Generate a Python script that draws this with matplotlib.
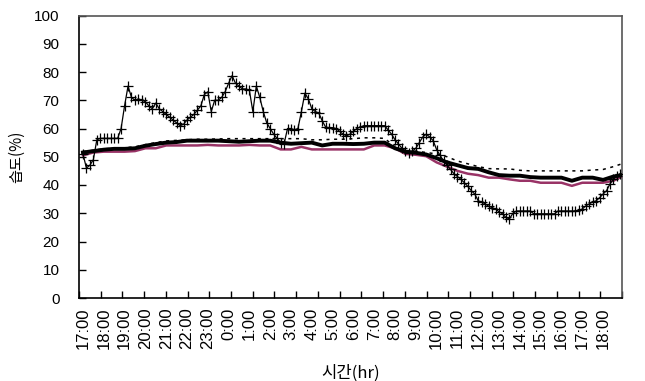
import numpy as np
import matplotlib
matplotlib.use("Agg")
import matplotlib.pyplot as plt

plt.rcParams['font.family'] = ['Liberation Sans', 'Noto Sans CJK KR', 'DejaVu Sans']

# time axis labels (hours after 17:00)
tick_labels = ["17:00", "18:00", "19:00", "20:00", "21:00", "22:00", "23:00",
               "0:00", "1:00", "2:00", "3:00", "4:00", "5:00", "6:00", "7:00",
               "8:00", "9:00", "10:00", "11:00", "12:00", "13:00", "14:00",
               "15:00", "16:00", "17:00", "18:00"]
tick_hours = list(range(len(tick_labels)))

# outdoor humidity (+ markers), every 10 minutes from 17:00
plus_vals = [
    51, 46, 47, 49, 56, 56.5,
    56.5, 56.5, 56.5, 56.5, 56.5, 60,
    68, 75, 71, 70, 70.5, 70,
    69.5, 68, 67, 69, 67, 66,
    65, 64, 63, 62, 61, 61.5,
    63, 64, 65, 66.5, 68, 72,
    73, 66, 70, 70, 71, 73,
    76, 78.7, 76, 75, 74, 74,
    73.5, 66, 75, 71, 66, 62,
    60, 58, 56.5, 55, 54.6, 60,
    60, 59.5, 60, 66, 72.5, 70.5,
    67, 66, 65.5, 62.7, 60.5, 60.3,
    60.3, 60, 59, 58, 57.4, 58,
    59, 60, 60.5, 61, 61, 61,
    61, 61, 61, 61, 59.5, 58,
    56, 54.5, 53, 52, 51.4, 52,
    53, 55, 57, 58, 57, 55.7,
    52.5, 50.5, 48.5, 47, 45.5, 44,
    43, 42, 40.8, 39.5, 38, 36.8,
    34.4, 34, 33.3, 32.5, 32, 31.5,
    30.5, 29.8, 28.5, 28, 30, 30.8,
    30.8, 30.8, 30.8, 30.8, 29.8, 29.8,
    29.8, 29.8, 29.8, 29.8, 29.8, 30.8,
    30.8, 30.8, 30.8, 30.8, 30.8, 31,
    31.5, 32.6, 33.3, 34, 34.4, 35.5,
    36.8, 38, 40.4, 42, 43.3, 44,
]
plus_hours = [i / 6 for i in range(len(plus_vals))]

# indoor series, every 30 minutes (last point at 25.9 h)
line_hours = [i * 0.5 for i in range(52)] + [25.9]
thick_vals = [51.5, 52, 52.5, 52.8, 52.8, 53, 53.9, 54.5, 55, 55.2, 55.7, 55.7,
              55.7, 55.7, 55.5, 55.3, 55.5, 55.7, 55.7, 55, 54.6, 54.8, 55, 54,
              54.6, 54.6, 54.5, 54.6, 55, 55, 53, 51.8, 51.4, 50.8, 49.5, 48,
              47, 46, 45.7, 44.5, 43.5, 43.3, 43.3, 42.8, 42.6, 42.6, 42.6, 41.5,
              42.6, 42.6, 41.8, 43, 43.5]
dotted_vals = [51.8, 52.3, 52.8, 53, 53.2, 53.5, 54.3, 55, 55.6, 55.8, 56, 56.2,
               56.2, 56.3, 56.4, 56.4, 56.4, 56.4, 56.4, 56.4, 56.4, 56.4, 56, 56,
               56.2, 56.2, 56.4, 56.7, 56.7, 56.5, 53.5, 52.2, 52, 51.5, 51, 50,
               48.5, 47.5, 46.5, 45.8, 45.7, 45.7, 45.2, 45, 45, 45, 45, 45,
               45, 45.3, 45.5, 46.5, 47.5]
maroon_vals = [50.5, 51.5, 51.8, 51.8, 51.8, 52, 53, 53, 54, 54, 54, 54,
               54.2, 54, 54, 54, 54.2, 54, 54, 52.6, 52.6, 53.5, 52.6, 52.6,
               52.6, 52.6, 52.6, 52.6, 54, 54, 53, 51, 50.7, 50.2, 48, 46.5,
               45, 44, 43.5, 42.6, 42.6, 42, 41.5, 41.5, 40.8, 40.8, 40.8, 39.7,
               40.8, 40.8, 40.8, 41.5, 43]

fig = plt.figure(figsize=(6.45, 3.81), dpi=100)
ax = fig.add_axes([79 / 645, 1 - 298 / 381, (622 - 79) / 645, (298 - 15.5) / 381])

ax.plot(line_hours, dotted_vals, color='black', lw=1.1, ls=(0, (2, 3)), zorder=3)
ax.plot(line_hours, maroon_vals, color='#993366', lw=1.8, zorder=4)
ax.plot(line_hours, thick_vals, color='black', lw=2.8, zorder=5)
ax.plot(plus_hours, plus_vals, color='black', lw=0.9, marker='+', ms=7,
        mew=0.9, zorder=6)

x0, x1 = -0.19, 25.91
ax.set_xlim(x0, x1)
ax.set_ylim(0, 100)
ax.set_yticks(range(0, 101, 10))
ax.set_xticks(tick_hours)
ax.set_xticklabels(tick_labels, rotation=90, fontsize=12)
ax.tick_params(axis='x', which='major', length=0, pad=7)
ax.set_xticks(np.linspace(x0, x1, 26), minor=True)
ax.tick_params(axis='x', which='minor', direction='in', length=5, width=1)
ax.tick_params(axis='y', direction='in', length=5, width=1, labelsize=11, pad=14)

for s in ['left', 'bottom']:
    ax.spines[s].set_color('black')
    ax.spines[s].set_linewidth(1.2)
for s in ['top', 'right']:
    ax.spines[s].set_color('#555555')
    ax.spines[s].set_linewidth(1.2)

ax.set_ylabel('습도(%)', fontsize=11, family=['Noto Sans CJK KR', 'DejaVu Sans'])
ax.yaxis.set_label_coords(-0.10, 0.5)
ax.set_xlabel('시간(hr)', fontsize=12, family=['Noto Sans CJK KR', 'DejaVu Sans'])
ax.xaxis.set_label_coords(0.5, -0.235)

fig.savefig('out.png', dpi=100)
